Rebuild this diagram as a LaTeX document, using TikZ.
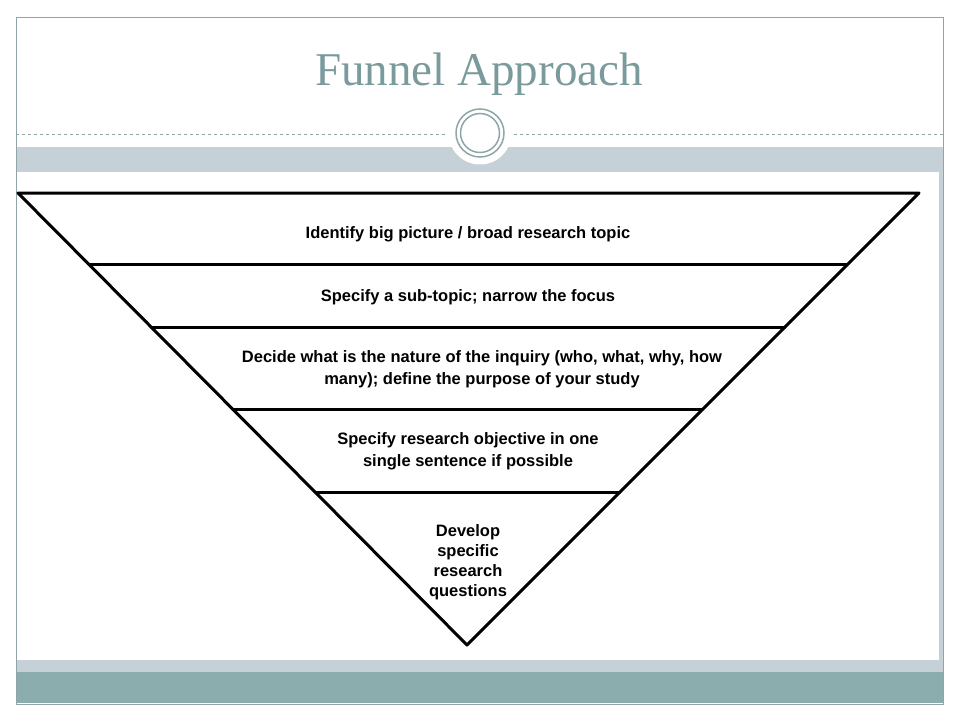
\documentclass[tikz,border=0pt]{standalone}
\usepackage{fontspec}
\setmainfont{Liberation Sans}
\newfontfamily\titlefont{Liberation Serif}
\usetikzlibrary{calc}
\definecolor{titlegray}{HTML}{7A9A9C}
\definecolor{bandlight}{HTML}{C5D1D7}
\definecolor{banddark}{HTML}{8BADAD}
\definecolor{framegray}{HTML}{8FA5A8}

\begin{document}
\begin{tikzpicture}[x=1pt, y=-1pt,
    stagetext/.style={font=\bfseries\fontsize{16.5}{22}\selectfont, align=center},
    funnelline/.style={line width=3pt, line join=round, line cap=round}]
      \useasboundingbox (0,0) rectangle (960,720);
      \fill[white] (0,0) rectangle (960,720);
      % slide frame and bands
      \fill[bandlight] (16,147) rectangle (943,172);
      \fill[bandlight] (939,172) rectangle (943,660);
      \fill[bandlight] (16,660) rectangle (943,672);
      \fill[banddark] (16,672) rectangle (943,703);
      \draw[framegray] (16,17) rectangle (943,704);
      \draw[framegray, dashed, line width=0.5pt] (16,134) -- (446,134);
      \draw[framegray, dashed, line width=0.5pt] (514,134) -- (943,134);
      \fill[white] (480,133) circle (31.5);
      \draw[framegray, line width=1.5pt] (480,133) circle (24);
      \draw[framegray, line width=1.5pt] (480,133) circle (19.5);
      \node[text=titlegray, font=\titlefont\fontsize{47}{47}\selectfont] (title) at (479,74) {Funnel Approach};
      % funnel
      \coordinate (tl) at (18,193);
      \coordinate (tr) at (919,193);
      \coordinate (apex) at (467,645);
      \draw[funnelline] (tl) -- (tr) -- (apex) -- cycle;
      \draw[funnelline] ($(tl)!0.159!(apex)$) -- ($(tr)!0.159!(apex)$);
      \draw[funnelline] ($(tl)!0.297!(apex)$) -- ($(tr)!0.297!(apex)$);
      \draw[funnelline] ($(tl)!0.480!(apex)$) -- ($(tr)!0.480!(apex)$);
      \draw[funnelline] ($(tl)!0.662!(apex)$) -- ($(tr)!0.662!(apex)$);
      \node[stagetext] (topic) at (468,234) {Identify big picture / broad research topic};
      \node[stagetext] (subtopic) at (468,297) {Specify a sub-topic; narrow the focus};
      \node[stagetext] (inquiry) at (482,369) {Decide what is the nature of the inquiry (who, what, why, how\\many); define the purpose of your study};
      \node[stagetext] (objective) at (468,451) {Specify research objective in one\\single sentence if possible};
      \node[stagetext, font=\bfseries\fontsize{16.5}{20}\selectfont] (questions) at (468,562) {Develop\\specific\\research\\questions};
    \end{tikzpicture}
\end{document}
